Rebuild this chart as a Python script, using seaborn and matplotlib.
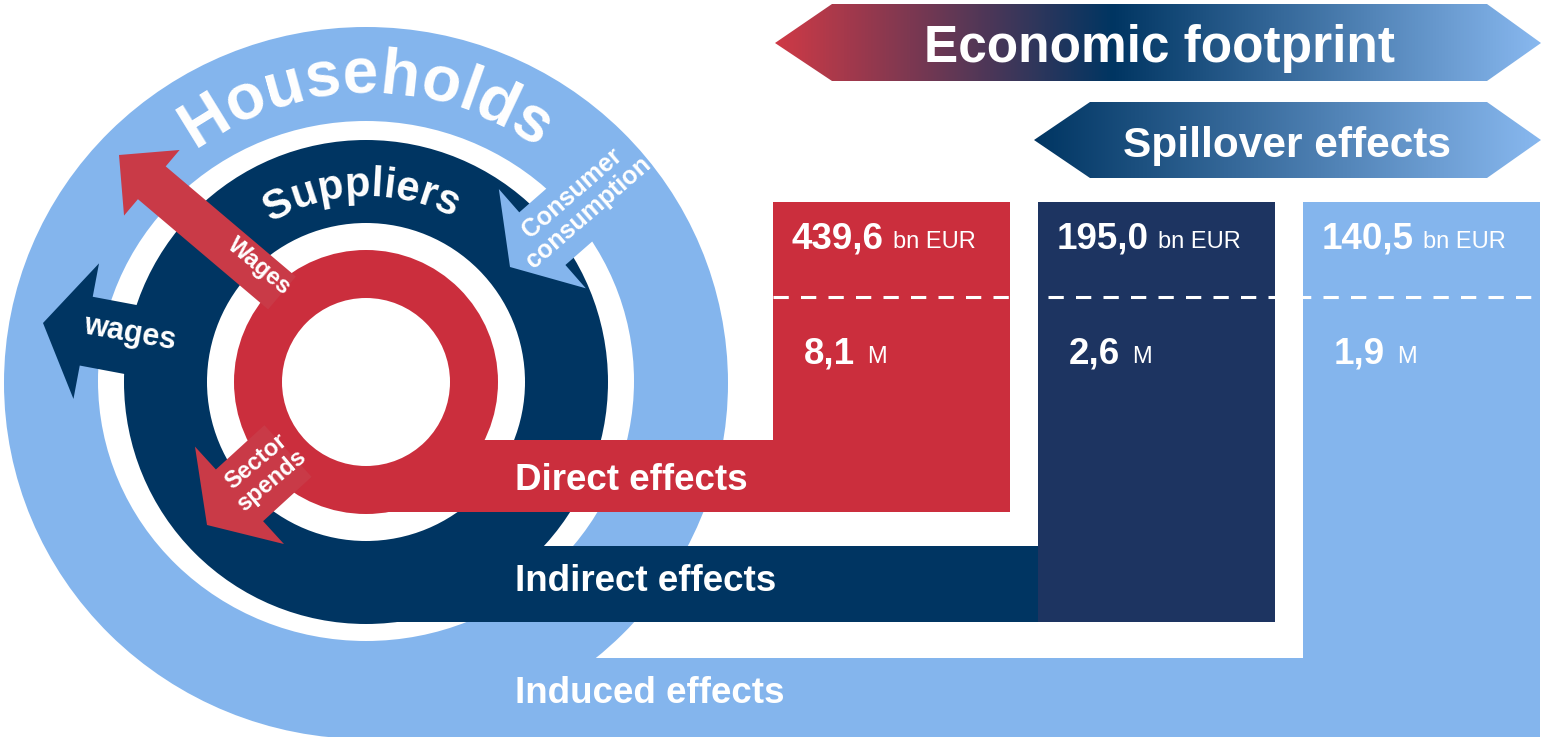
import numpy as np
import matplotlib
matplotlib.use("Agg")
import matplotlib.pyplot as plt
import seaborn as sns
from matplotlib.patches import Circle, Ellipse, Rectangle, Polygon, FancyArrow
from matplotlib.colors import LinearSegmentedColormap
from matplotlib.font_manager import FontProperties

# ---------------- Data ----------------
effects = ["Direct effects", "Indirect effects", "Induced effects"]
gva_bn_eur = [439.6, 195.0, 140.5]
jobs_m = [8.1, 2.6, 1.9]
gva_unit = "bn EUR"
jobs_unit = "M"
banners = ["Economic footprint", "Spillover effects"]
rings = ["Households", "Suppliers"]
flows = ["Wages", "wages", "Consumer\nconsumption", "Sector\nspends"]

RED = "#cb2e3d"
NAVY = "#003562"
NAVY_COL = "#1d3461"
LIGHT = "#84b5ed"
ARROW_RED = "#c93a47"

sns.set_theme(style="white")
plt.rcParams["font.family"] = ["Liberation Sans", "DejaVu Sans"]
palette = sns.color_palette([RED, NAVY_COL, LIGHT])

W, H = 1542, 737
fig = plt.figure(figsize=(W / 100, H / 100), dpi=100)
ax = fig.add_axes([0, 0, 1, 1])
ax.set_xlim(0, W)
ax.set_ylim(H, 0)
ax.axis("off")
renderer = fig.canvas.get_renderer()

bold = lambda s: FontProperties(family=["Liberation Sans", "DejaVu Sans"], weight="bold", size=s)
reg = lambda s: FontProperties(family=["Liberation Sans", "DejaVu Sans"], size=s)


def text_w(s, fp):
    if not s:
        return 0.0
    return renderer.get_text_width_height_descent(s, fp, ismath=False)[0]


# ---------------- Rings ----------------
cx, cy = 366, 382
ax.add_patch(Ellipse((cx, cy + 1), 724, 712, color=LIGHT, lw=0, zorder=1))
ax.add_patch(Ellipse((cx, cy - 1), 536, 520, color="white", lw=0, zorder=2))
ax.add_patch(Circle((cx, cy), 242, color=NAVY, lw=0, zorder=3))
ax.add_patch(Circle((cx, cy), 159, color="white", lw=0, zorder=4))
ax.add_patch(Circle((cx, cy), 132, color=RED, lw=0, zorder=5))

# ---------------- Bars (tails of the rings) + columns ----------------
col_left = [773, 1038, 1303]
col_w = 237
col_top = 202
bar_top = [440, 546, 658]
bar_bot = [512, 622, 737]
bar_left = [366, 357, 357]
bar_colors = [RED, NAVY, LIGHT]
for i in range(3):
    ax.add_patch(Rectangle((bar_left[i], bar_top[i]), col_left[i] - bar_left[i],
                           bar_bot[i] - bar_top[i], color=bar_colors[i], lw=0, zorder=6))
ax.bar(col_left, [b - col_top for b in bar_bot], bottom=col_top, width=col_w,
       align="edge", color=palette, linewidth=0, zorder=6)
ax.add_patch(Circle((cx, cy), 84, color="white", lw=0, zorder=7))

ax.plot([773, 1540], [297, 297], color="white", lw=2.2, dashes=(5, 4), zorder=9)

# ---------------- Flow arrows ----------------
def arrow(tail, tip, width, hw, hl, color):
    ax.add_patch(FancyArrow(tail[0], tail[1], tip[0] - tail[0], tip[1] - tail[1],
                            width=width, head_width=hw, head_length=hl,
                            length_includes_head=True, color=color, lw=0, zorder=8))

arrow((165, 346), (43, 323), 70, 138, 44, NAVY)
arrow((623, 168), (510, 267), 70, 132, 43, LIGHT)
arrow((282, 293), (119, 155), 43, 86, 43, ARROW_RED)
arrow((288, 451), (207, 525), 70, 132, 44, ARROW_RED)

ax.text(259, 266, flows[0], fontproperties=bold(17), color="white", rotation=-40,
        ha="center", va="center", rotation_mode="anchor", zorder=10)
ax.text(130, 333, flows[1], fontproperties=bold(22), color="white", rotation=-10,
        ha="center", va="center", rotation_mode="anchor", zorder=10)
ax.text(580, 203, flows[2], fontproperties=bold(18), color="white", rotation=41,
        ha="center", va="center", multialignment="center", rotation_mode="anchor",
        linespacing=1.05, zorder=10)
ax.text(264, 471, flows[3], fontproperties=bold(17), color="white", rotation=40,
        ha="center", va="center", multialignment="center", rotation_mode="anchor",
        linespacing=1.05, zorder=10)

# ---------------- Curved ring labels ----------------
def arc_text(s, rb, mid_deg, fp, track=0.0):
    cum = [text_w(s[:i], fp) + i * track for i in range(len(s) + 1)]
    total = cum[-1] - track
    for i, ch in enumerate(s):
        c = (cum[i] + cum[i + 1] - track) / 2 - total / 2
        th = np.deg2rad(mid_deg) - c / rb
        ax.text(cx + rb * np.cos(th), cy - rb * np.sin(th), ch, fontproperties=fp,
                color="white", rotation=np.rad2deg(th) - 90, ha="center",
                va="baseline", rotation_mode="anchor", zorder=10)

arc_text(rings[0], 289, 90, bold(46))
arc_text(rings[1], 186, 91.5, bold(30))

# ---------------- Banners ----------------
def banner(pts, stops, label, size, base_y):
    poly = Polygon(pts, closed=True, fill=False, lw=0, zorder=6)
    ax.add_patch(poly)
    xs = [p[0] for p in pts]
    ys = [p[1] for p in pts]
    cmap = LinearSegmentedColormap.from_list("g", stops)
    im = ax.imshow(np.linspace(0, 1, 512)[None, :], cmap=cmap, aspect="auto",
                   extent=(min(xs), max(xs), max(ys), min(ys)), zorder=6)
    im.set_clip_path(poly)
    ax.text(label[1], base_y, label[0], fontproperties=bold(size), color="white",
            ha="center", va="baseline", zorder=10)

banner([(775, 43), (832, 4), (1487, 4), (1541, 43), (1487, 81), (832, 81)],
       [(0, "#cf3a46"), (0.44, NAVY), (1, "#88b8ef")], (banners[0], 1159), 37, 62)
banner([(1034, 140), (1090, 102), (1487, 102), (1541, 140), (1487, 178), (1090, 178)],
       [(0, NAVY), (1, "#88b8ef")], (banners[1], 1287), 30.5, 157)

# ---------------- Values ----------------
fmt = lambda v: f"{v:.1f}".replace(".", ",")
for i in range(3):
    x0 = col_left[i] + 19
    s = fmt(gva_bn_eur[i])
    ax.text(x0, 248, s, fontproperties=bold(26.5), color="white", va="baseline", zorder=10)
    ax.text(x0 + text_w(s, bold(26.5)) + 9, 248, gva_unit, fontproperties=reg(17),
            color="white", va="baseline", zorder=10)
    x1 = col_left[i] + 31
    s = fmt(jobs_m[i])
    ax.text(x1, 363, s, fontproperties=bold(26.5), color="white", va="baseline", zorder=10)
    ax.text(x1 + text_w(s, bold(26.5)) + 12, 363, jobs_unit, fontproperties=reg(17),
            color="white", va="baseline", zorder=10)

# ---------------- Effect labels ----------------
for lab, yb in zip(effects, [490, 591, 703]):
    ax.text(515, yb, lab, fontproperties=bold(26.5), color="white", va="baseline", zorder=10)

ax.set_xlim(0, W)
ax.set_ylim(H, 0)
fig.savefig("out.png", dpi=100)
